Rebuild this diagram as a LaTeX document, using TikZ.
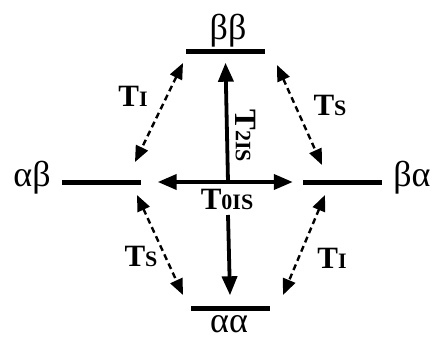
\documentclass[tikz,border=0pt]{standalone}
\usepackage{fontspec}
\setmainfont{Liberation Serif}
\usetikzlibrary{arrows.meta}
\newcommand{\sm}[1]{{\fontsize{22}{22}\selectfont #1}}

\begin{document}
\begin{tikzpicture}[x=1pt, y=-1pt, >={Triangle[length=19pt,width=15pt]},
  level/.style={fill=black, minimum width=79pt, minimum height=5pt, inner sep=0pt},
  greek/.style={inner sep=0pt, font=\fontsize{36}{36}\selectfont},
  tlab/.style={inner sep=0pt, font=\fontsize{31}{31}\selectfont\bfseries},
  solidarr/.style={line width=3.8pt},
  mixarr/.style={<->, line width=2.4pt, dash pattern=on 6pt off 4pt,
    >={Triangle[length=16pt,width=13pt]}}]
  \useasboundingbox (0,0) rectangle (438,339);

  % energy levels
  \node[level] (bb) at (225.5,52) {};
  \node[level] (aa) at (230,308) {};
  \node[level] (ab) at (101,182) {};
  \node[level] (ba) at (342.5,182) {};

  \node[greek] (bbt) at (228,31) {ββ};
  \node[greek] (aat) at (229,324) {αα};
  \node[greek] (abt) at (32,178) {αβ};
  \node[greek] (bat) at (412,178) {βα};

  % solid transitions
  \coordinate (C) at (228,182);
  \coordinate (D) at (228,215);
  \draw[solidarr, ->] (C) -- ([yshift=-8pt]bb.south);
  \draw[solidarr, ->] (D) -- ([yshift=10pt]aa.north);
  \draw[solidarr, ->] (C) -- ([xshift=17pt]ab.east);
  \draw[solidarr, ->] (C) -- ([xshift=-10pt]ba.west);

  \node[tlab, rotate=-90] (t2) at (246,136) {T\sm{2IS}};
  \node[tlab] (t0) at (227,199) {T\sm{0IS}};

  % dashed transitions
  \coordinate (P1) at (183,63);
  \coordinate (P2) at (135,162);
  \coordinate (Q1) at (277,65);
  \coordinate (Q2) at (322,165);
  \coordinate (R1) at (137,195);
  \coordinate (R2) at (183,295);
  \coordinate (S1) at (325,195);
  \coordinate (S2) at (283,295);
  \draw[mixarr] (P1) -- (P2);
  \draw[mixarr] (Q1) -- (Q2);
  \draw[mixarr] (R1) -- (R2);
  \draw[mixarr] (S1) -- (S2);

  \node[tlab] (ti1) at (133,96) {T\sm{I}};
  \node[tlab] (ts1) at (330,105) {T\sm{S}};
  \node[tlab] (ts2) at (141,256) {T\sm{S}};
  \node[tlab] (ti2) at (332,258) {T\sm{I}};
\end{tikzpicture}
\end{document}
